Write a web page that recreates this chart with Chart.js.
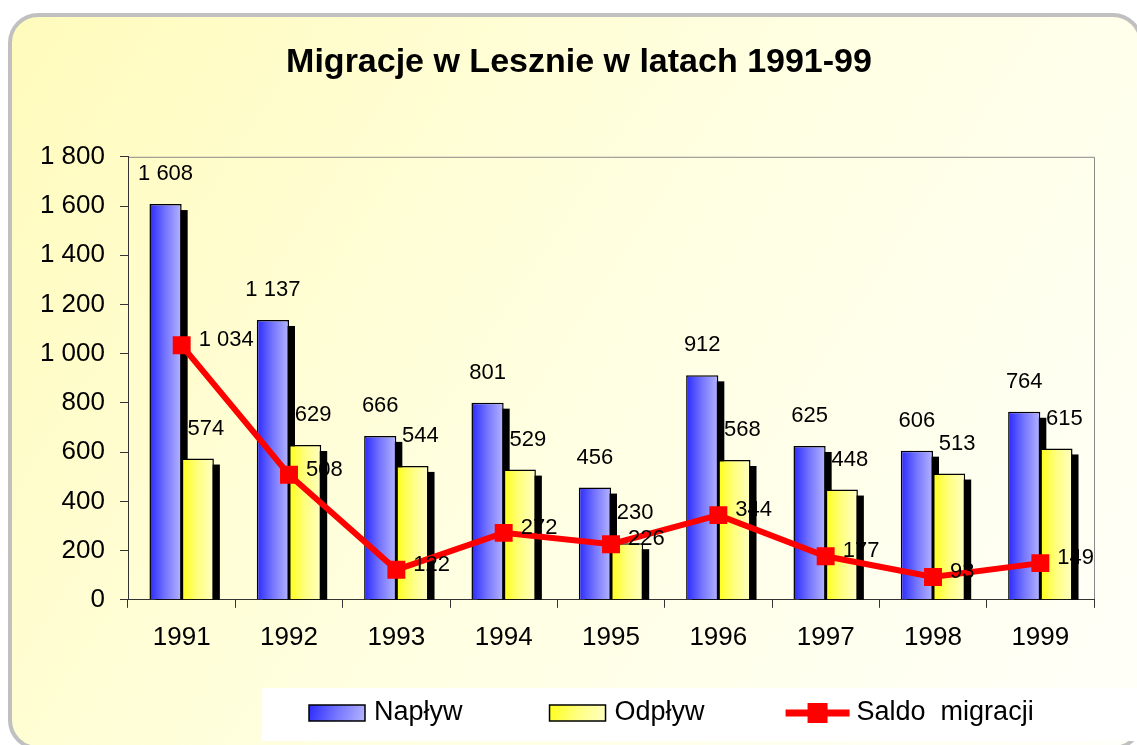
<!DOCTYPE html>
<html>
<head>
<meta charset="utf-8">
<script src="https://cdn.jsdelivr.net/npm/chart.js@4.4.0/dist/chart.umd.min.js"></script>
<style>
  html, body { margin: 0; padding: 0; background: #fff; }
  #wrap { width: 1137px; height: 745px; }
</style>
</head>
<body>
<div id="wrap"><canvas id="chart" width="1137" height="745"></canvas></div>
<script>
// dane z wykresu
const years = ['1991', '1992', '1993', '1994', '1995', '1996', '1997', '1998', '1999'];
const naplyw = [1608, 1137, 666, 801, 456, 912, 625, 606, 764];
const odplyw = [574, 629, 544, 529, 230, 568, 448, 513, 615];
const saldo = [1034, 508, 122, 272, 226, 344, 177, 93, 149];
const yTicks = [0, 200, 400, 600, 800, 1000, 1200, 1400, 1600, 1800];

const FONT = "'Liberation Sans', Arial, sans-serif";
const blueStops = ['#2a2aff', '#7676ff', '#b4b4ff'];
const yellowStops = ['#ffff18', '#ffff80', '#ffffc4'];

function fmt(v) {
  return String(v).replace(/\B(?=(\d{3})+(?!\d))/g, ' ');
}

// horizontal gradient for each bar, computed from the scales
function barFill(side, stops) {
  return (c) => {
    const chart = c.chart;
    if (!chart.chartArea || c.dataIndex === undefined) return stops[1];
    const xs = chart.scales.x;
    const center = xs.getPixelForValue(c.dataIndex);
    const bw = xs.width / years.length * 0.6 / 2;
    const left = side < 0 ? center - bw : center;
    const g = chart.ctx.createLinearGradient(left, 0, left + bw, 0);
    g.addColorStop(0, stops[0]);
    g.addColorStop(0.5, stops[1]);
    g.addColorStop(1, stops[2]);
    return g;
  };
}

function roundRectPath(ctx, x, y, w, h, r) {
  ctx.beginPath();
  ctx.moveTo(x + r, y);
  ctx.arcTo(x + w, y, x + w, y + h, r);
  ctx.arcTo(x + w, y + h, x, y + h, r);
  ctx.arcTo(x, y + h, x, y, r);
  ctx.arcTo(x, y, x + w, y, r);
  ctx.closePath();
}

const bgPlugin = {
  id: 'bg',
  afterLayout(chart) {
    // title sits a bit right of the canvas centre in the original
    chart.titleBlock.left += 12;
    chart.titleBlock.right += 12;
  },
  beforeDraw(chart) {
    const { ctx, width, height, chartArea: a } = chart;
    ctx.save();
    ctx.fillStyle = '#fff';
    ctx.fillRect(0, 0, width, height);
    const g = ctx.createLinearGradient(10, 15, 1141, 748);
    g.addColorStop(0, '#fffbbc');
    g.addColorStop(0.5, '#ffffe2');
    g.addColorStop(1, '#fffffa');
    roundRectPath(ctx, 10, 15, 1131, 733, 28);
    ctx.fillStyle = g;
    ctx.fill();
    ctx.lineWidth = 4;
    ctx.strokeStyle = '#c0c0c0';
    ctx.stroke();
    // white panel under the legend
    ctx.fillStyle = '#fff';
    ctx.fillRect(262, 688, 877, 53);
    // grey frame on top and right of plot
    ctx.strokeStyle = '#8a8a8a';
    ctx.lineWidth = 1;
    ctx.beginPath();
    ctx.moveTo(a.left, a.top + 0.5);
    ctx.lineTo(a.right + 0.5, a.top + 0.5);
    ctx.lineTo(a.right + 0.5, a.bottom);
    ctx.stroke();
    ctx.restore();
  }
};

// black drop shadow under bars (drawn before bars so the next bar covers it)
const shadowPlugin = {
  id: 'barShadow',
  beforeDatasetsDraw(chart) {
    const { ctx, chartArea: a } = chart;
    ctx.save();
    ctx.beginPath();
    ctx.rect(a.left, a.top, a.right - a.left, a.bottom - a.top);
    ctx.clip();
    ctx.fillStyle = '#000';
    chart.data.datasets.forEach((ds, i) => {
      const meta = chart.getDatasetMeta(i);
      if (meta.type !== 'bar') return;
      meta.data.forEach(el => {
        const { x, y, width, base } = el.getProps(['x', 'y', 'width', 'base'], true);
        ctx.fillRect(x - width / 2 + 6, y + 6, width, base - y);
      });
    });
    ctx.restore();
  }
};

const labelPlugin = {
  id: 'valueLabels',
  afterDatasetsDraw(chart) {
    const ctx = chart.ctx;
    ctx.save();
    ctx.font = '22px ' + FONT;
    ctx.fillStyle = '#000';
    ctx.textBaseline = 'middle';
    chart.data.datasets.forEach((ds, i) => {
      const meta = chart.getDatasetMeta(i);
      meta.data.forEach((el, j) => {
        const t = fmt(ds.data[j]);
        if (meta.type === 'line') {
          ctx.textAlign = 'left';
          ctx.fillText(t, el.x + 17, el.y - 5);
        } else {
          ctx.textAlign = 'center';
          ctx.fillText(t, el.x + (i === 1 ? 8 : 0), el.y - 30);
        }
      });
    });
    ctx.restore();
  }
};

const legendPlugin = {
  id: 'bottomLegend',
  afterDraw(chart) {
    const ctx = chart.ctx;
    const yc = 713;
    let x = 309;
    ctx.save();
    ctx.font = '27px ' + FONT;
    ctx.textBaseline = 'middle';
    ctx.textAlign = 'left';
    chart.data.datasets.forEach((ds, i) => {
      const meta = chart.getDatasetMeta(i);
      if (meta.type === 'bar') {
        const stops = i === 0 ? blueStops : yellowStops;
        const g = ctx.createLinearGradient(x, yc - 8, x + 56, yc + 8);
        g.addColorStop(0, stops[0]);
        g.addColorStop(0.5, stops[1]);
        g.addColorStop(1, stops[2]);
        ctx.fillStyle = g;
        ctx.fillRect(x, yc - 8, 56, 16);
        ctx.strokeStyle = '#000';
        ctx.lineWidth = 1.5;
        ctx.strokeRect(x, yc - 8, 56, 16);
      } else {
        ctx.strokeStyle = ds.borderColor;
        ctx.lineWidth = 7;
        ctx.beginPath();
        ctx.moveTo(x - 6, yc);
        ctx.lineTo(x + 58, yc);
        ctx.stroke();
        ctx.fillStyle = ds.borderColor;
        ctx.fillRect(x + 26 - 10, yc - 10, 20, 20);
      }
      const tx = x + 65;
      ctx.fillStyle = '#000';
      ctx.fillText(ds.label, tx, yc);
      x = tx + ctx.measureText(ds.label).width + 87;
    });
    ctx.restore();
  }
};

new Chart(document.getElementById('chart'), {
  type: 'bar',
  data: {
    labels: years,
    datasets: [
      {
        label: 'Napływ',
        data: naplyw,
        backgroundColor: barFill(-1, blueStops),
        borderColor: '#000',
        borderWidth: 1.5,
        categoryPercentage: 0.6,
        barPercentage: 1
      },
      {
        label: 'Odpływ',
        data: odplyw,
        backgroundColor: barFill(1, yellowStops),
        borderColor: '#000',
        borderWidth: 1.5,
        categoryPercentage: 0.6,
        barPercentage: 1
      },
      {
        type: 'line',
        label: 'Saldo  migracji',
        data: saldo,
        order: -1,
        borderColor: '#ff0000',
        borderWidth: 6,
        pointStyle: 'rect',
        pointRadius: 12.7,
        pointBackgroundColor: '#ff0000',
        pointBorderColor: '#ff0000',
        pointBorderWidth: 0,
        tension: 0,
        fill: false
      }
    ]
  },
  options: {
    responsive: false,
    animation: false,
    devicePixelRatio: 1,
    layout: { padding: { left: 40, right: 43, top: 0, bottom: 78 } },
    plugins: {
      legend: { display: false },
      tooltip: { enabled: false },
      title: {
        display: true,
        text: 'Migracje w Lesznie w latach 1991-99',
        color: '#000',
        font: { family: FONT, size: 34, weight: 'bold' },
        padding: { top: 42, bottom: 74 }
      }
    },
    scales: {
      x: {
        grid: { offset: true, drawOnChartArea: false, tickLength: 8, color: '#333' },
        border: { color: '#333' },
        ticks: { color: '#000', font: { family: FONT, size: 26 }, padding: 14, maxRotation: 0 }
      },
      y: {
        min: 0,
        max: 1800,
        afterBuildTicks: s => { s.ticks = yTicks.map(v => ({ value: v })); },
        afterFit: s => { s.width = 88; },
        grid: { drawOnChartArea: false, tickLength: 8, color: '#333' },
        border: { color: '#333' },
        ticks: { color: '#000', font: { family: FONT, size: 26 }, padding: 15, callback: v => fmt(v) }
      }
    }
  },
  plugins: [bgPlugin, shadowPlugin, labelPlugin, legendPlugin]
});
</script>
</body>
</html>
